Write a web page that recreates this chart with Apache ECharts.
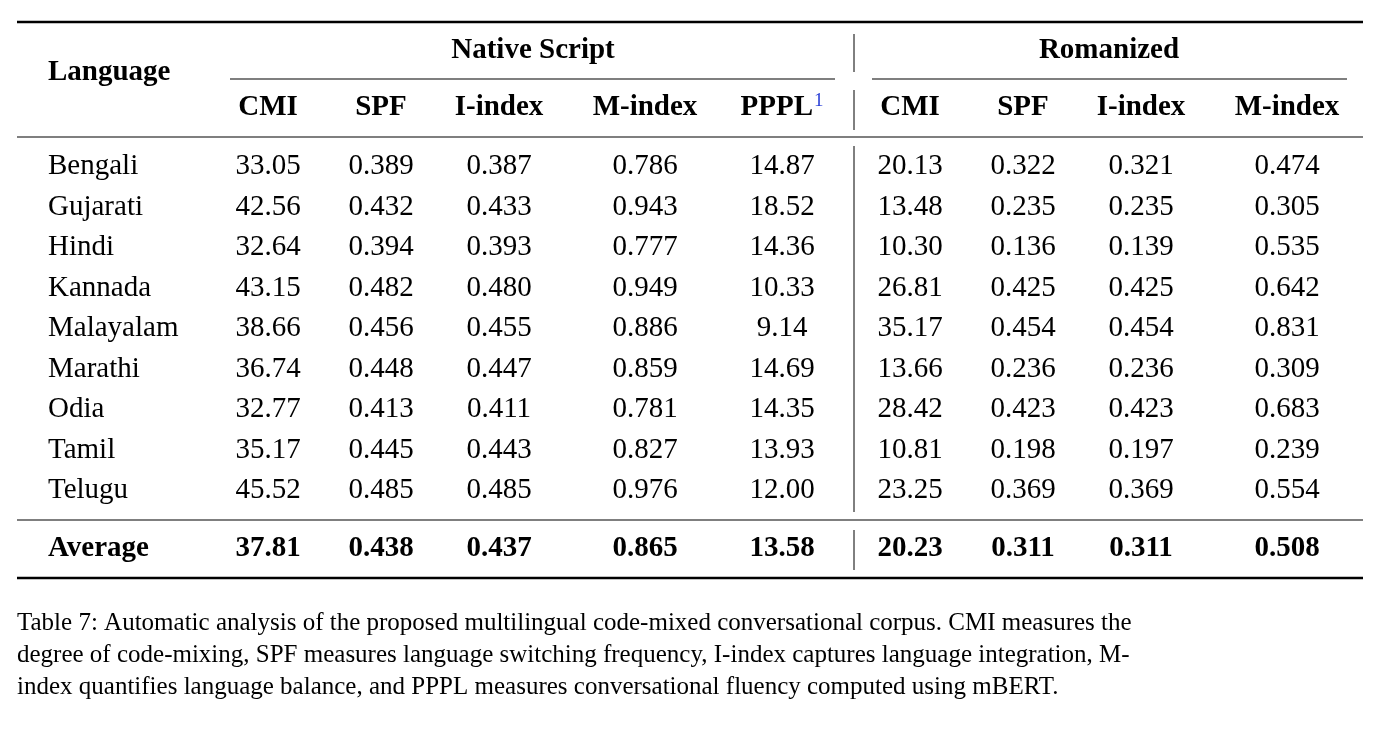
<!DOCTYPE html>
<html><head><meta charset="utf-8">
<script src="https://cdn.jsdelivr.net/npm/echarts@6/dist/echarts.min.js"></script>
<style>html,body{margin:0;padding:0;background:#fff}#c{width:1398px;height:729px}</style>
</head><body><div id="c"></div>
<script>
const languages = ["Bengali","Gujarati","Hindi","Kannada","Malayalam","Marathi","Odia","Tamil","Telugu"];
const nativeCMI = ["33.05","42.56","32.64","43.15","38.66","36.74","32.77","35.17","45.52"];
const nativeSPF = ["0.389","0.432","0.394","0.482","0.456","0.448","0.413","0.445","0.485"];
const nativeI = ["0.387","0.433","0.393","0.480","0.455","0.447","0.411","0.443","0.485"];
const nativeM = ["0.786","0.943","0.777","0.949","0.886","0.859","0.781","0.827","0.976"];
const nativePPPL = ["14.87","18.52","14.36","10.33","9.14","14.69","14.35","13.93","12.00"];
const romCMI = ["20.13","13.48","10.30","26.81","35.17","13.66","28.42","10.81","23.25"];
const romSPF = ["0.322","0.235","0.136","0.425","0.454","0.236","0.423","0.198","0.369"];
const romI = ["0.321","0.235","0.139","0.425","0.454","0.236","0.423","0.197","0.369"];
const romM = ["0.474","0.305","0.535","0.642","0.831","0.309","0.683","0.239","0.554"];
const averageRow = ["Average","37.81","0.438","0.437","0.865","13.58","20.23","0.311","0.311","0.508"];
const groupHeaders = ["Native Script","Romanized"];
const colHeaders = ["CMI","SPF","I-index","M-index","PPPL","CMI","SPF","I-index","M-index"];
const caption = ["Table 7: Automatic analysis of the proposed multilingual code-mixed conversational corpus. CMI measures the",
"degree of code-mixing, SPF measures language switching frequency, I-index captures language integration, M-",
"index quantifies language balance, and PPPL measures conversational fluency computed using mBERT."];

// layout (positions only)
const colX = [48,268,381,499,645,782,910,1023,1141,1287];
const rowY = [166,207,247,288,328,369,409,450,490];
const avgY = 549, hdr2Y = 108, hdr1Y = 51;

const cols = [languages,nativeCMI,nativeSPF,nativeI,nativeM,nativePPPL,romCMI,romSPF,romI,romM];
const cells = [];
cols.forEach((c,ci)=>c.forEach((v,ri)=>cells.push({value:[colX[ci],rowY[ri]],t:v,left:ci===0,bold:false})));
averageRow.forEach((v,ci)=>cells.push({value:[colX[ci],avgY],t:v,left:ci===0,bold:true}));
colHeaders.forEach((v,i)=>cells.push({value:[colX[i+1],hdr2Y],t:v,left:false,bold:true,sup:i===4}));
cells.push({value:[48,73],t:"Language",left:true,bold:true});
cells.push({value:[533,hdr1Y],t:groupHeaders[0],left:false,bold:true});
cells.push({value:[1109,hdr1Y],t:groupHeaders[1],left:false,bold:true});

const FAM = "Liberation Serif";
const chart = echarts.init(document.getElementById('c'));
const line=(x1,y1,x2,y2,w)=>({type:'line',shape:{x1,y1,x2,y2},style:{stroke:'#000',lineWidth:w}});
chart.setOption({
  animation:false,
  grid:{left:0,right:0,top:0,bottom:0},
  xAxis:{type:'value',min:0,max:1398,show:false},
  yAxis:{type:'value',min:0,max:729,inverse:true,show:false},
  series:[{type:'custom',data:cells,renderItem:(p,api)=>{
    const d=cells[p.dataIndex];const pt=api.coord(d.value);
    if(d.sup){return {type:'text',x:pt[0],y:pt[1],style:{text:'{a|PPPL}{s|1}',align:'center',verticalAlign:'middle',
      rich:{a:{fontFamily:FAM,fontSize:29,fontWeight:'bold',fill:'#000'},s:{fontFamily:FAM,fontSize:19,fill:'#2a3fd6',verticalAlign:'top',padding:[0,0,14,1]}}}};}
    return {type:'text',x:pt[0],y:pt[1],style:{text:d.t,fontFamily:FAM,fontSize:29,fontWeight:d.bold?'bold':'normal',fill:'#000',
      align:d.left?'left':'center',verticalAlign:'middle'}};
  }}],
  graphic:[
    line(17,22,1363,22,2.5), line(230,79,835,79,1.2), line(872,79,1347,79,1.2),
    line(17,137,1363,137,1.2), line(17,520,1363,520,1.2), line(17,578,1363,578,2.5),
    line(854,34,854,72,1), line(854,90,854,130,1), line(854,146,854,512,1), line(854,530,854,570,1),
    ...caption.map((c,i)=>({type:'text',left:17,top:611+i*32,style:{text:c,fontFamily:FAM,fontSize:25,fill:'#000'}}))
  ]
});
</script></body></html>
